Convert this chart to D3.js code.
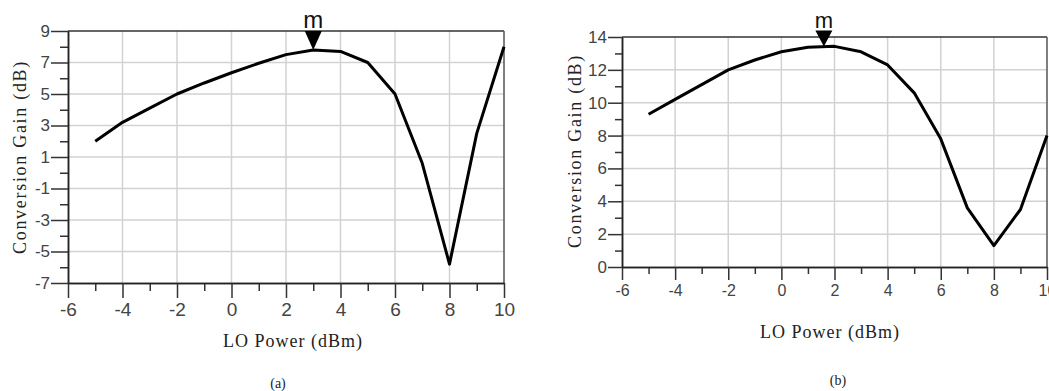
<!DOCTYPE html>
<html>
<head>
<meta charset="utf-8">
<script src="https://cdn.jsdelivr.net/npm/d3@7"></script>
<style>
  body { margin: 0; background: #fff; }
  svg { display: block; }
  .serif { font-family: "Liberation Serif", "DejaVu Serif", serif; }
  .sans { font-family: "Liberation Sans", Arial, sans-serif; }
</style>
</head>
<body>
<svg id="fig" width="1049" height="391"></svg>
<script>
// LO power sweep (dBm)
const loPower = [-5, -4, -3, -2, -1, 0, 1, 2, 3, 4, 5, 6, 7, 8, 9, 10];
// conversion gain (dB), panel (a) and (b)
const gainA = [2.0, 3.2, 4.1, 5.0, 5.7, 6.35, 6.95, 7.5, 7.8, 7.7, 7.0, 5.0, 0.6, -5.8, 2.5, 8.0];
const gainB = [9.3, 10.2, 11.1, 12.0, 12.6, 13.1, 13.37, 13.43, 13.1, 12.3, 10.6, 7.8, 3.6, 1.3, 3.5, 8.0];

const xMajor = [-6, -4, -2, 0, 2, 4, 6, 8, 10];
const xMinor = [-5, -3, -1, 1, 3, 5, 7, 9];
const yMajorA = [-7, -5, -3, -1, 1, 3, 5, 7, 9];
const yMinorA = [-6, -4, -2, 0, 2, 4, 6, 8];
const yMajorB = [0, 2, 4, 6, 8, 10, 12, 14];
const yMinorB = [1, 3, 5, 7, 9, 11, 13];

// marker "m" positions
const markerA = { x: 3, y: 7.8 };
const markerB = { x: 1.6, y: 13.42 };

const svg = d3.select("#fig");

function panel(cfg) {
  const x = d3.scaleLinear().domain([-6, 10]).range([cfg.left, cfg.right]);
  const y = d3.scaleLinear().domain(cfg.yDomain).range([cfg.bottom, cfg.top]);
  const g = svg.append("g");

  // grid
  g.append("g").selectAll("line").data(xMajor.slice(1, -1)).join("line")
    .attr("x1", d => x(d)).attr("x2", d => x(d))
    .attr("y1", cfg.top).attr("y2", cfg.bottom)
    .attr("stroke", "#d2d2d2").attr("stroke-width", 1.5);
  g.append("g").selectAll("line").data(cfg.yMajor.slice(1, -1)).join("line")
    .attr("y1", d => y(d)).attr("y2", d => y(d))
    .attr("x1", cfg.left).attr("x2", cfg.right)
    .attr("stroke", "#d2d2d2").attr("stroke-width", 1.5);

  // frame top/right
  g.append("line").attr("x1", cfg.left).attr("x2", cfg.right).attr("y1", cfg.top).attr("y2", cfg.top)
    .attr("stroke", "#333").attr("stroke-width", 1.5);
  g.append("line").attr("x1", cfg.right).attr("x2", cfg.right).attr("y1", cfg.top).attr("y2", cfg.bottom)
    .attr("stroke", "#555").attr("stroke-width", 1.5);

  // axes
  const styleAxis = size => a => a
    .call(s => s.selectAll(".domain").attr("stroke", "#222").attr("stroke-width", 1.5))
    .call(s => s.selectAll(".tick line").attr("stroke", "#333").attr("stroke-width", 1.5))
    .call(s => s.selectAll(".tick text").attr("fill", "#444").attr("class", "sans")
      .style("font-size", size + "px"));
  const plain = d => String(d);

  g.append("g").attr("transform", `translate(0,${cfg.bottom})`)
    .call(d3.axisBottom(x).tickValues(xMinor).tickSize(cfg.minorLen).tickFormat("").tickSizeOuter(0))
    .call(styleAxis(cfg.xFont));
  g.append("g").attr("transform", `translate(0,${cfg.bottom})`)
    .call(d3.axisBottom(x).tickValues(xMajor).tickSize(cfg.majorLen).tickPadding(cfg.xPad)
      .tickFormat(plain).tickSizeOuter(0))
    .call(styleAxis(cfg.xFont));
  g.append("g").attr("transform", `translate(${cfg.left},0)`)
    .call(d3.axisLeft(y).tickValues(cfg.yMinor).tickSize(cfg.minorLen).tickFormat("").tickSizeOuter(0))
    .call(styleAxis(cfg.yFont));
  g.append("g").attr("transform", `translate(${cfg.left},0)`)
    .call(d3.axisLeft(y).tickValues(cfg.yMajor).tickSize(cfg.yMajorLen).tickPadding(1)
      .tickFormat(plain).tickSizeOuter(0))
    .call(styleAxis(cfg.yFont));
  g.selectAll("g[font-family]").attr("font-family", null).attr("font-size", null);

  // curve
  g.append("path")
    .datum(loPower.map((p, i) => [p, cfg.gain[i]]))
    .attr("fill", "none").attr("stroke", "#000").attr("stroke-width", 3)
    .attr("stroke-linejoin", "round")
    .attr("d", d3.line().x(d => x(d[0])).y(d => y(d[1])));

  // marker
  const mx = x(cfg.marker.x), my = y(cfg.marker.y);
  g.append("path")
    .attr("d", `M${mx},${my} L${mx - 8.5},${my - cfg.triH} L${mx + 8.5},${my - cfg.triH} Z`)
    .attr("fill", "#000");
  g.append("text").attr("class", "sans").attr("x", mx).attr("y", my - cfg.triH - 3)
    .attr("text-anchor", "middle").style("font-size", cfg.mSize + "px")
    .attr("fill", "#111").text("m");

  // titles
  g.append("text").attr("class", "serif")
    .attr("transform", `translate(${cfg.yTitleX},${cfg.yTitleY}) rotate(-90)`)
    .attr("text-anchor", "middle").attr("dy", "0.35em")
    .style("font-size", "18px").attr("letter-spacing", 1.7)
    .attr("fill", "#222").text("Conversion Gain (dB)");
  g.append("text").attr("class", "serif").attr("x", cfg.xTitleX).attr("y", cfg.xTitleY)
    .attr("text-anchor", "middle").attr("dy", "0.35em")
    .style("font-size", "18px").attr("letter-spacing", 1)
    .attr("fill", "#222").text("LO Power (dBm)");
  g.append("text").attr("class", "serif").attr("x", cfg.capX).attr("y", cfg.capY)
    .attr("text-anchor", "middle").attr("dy", "0.35em")
    .style("font-size", "14px")
    .attr("fill", "#222").text(cfg.caption);
}

panel({
  left: 68, right: 504, top: 31, bottom: 283,
  yDomain: [-7, 9], yMajor: yMajorA, yMinor: yMinorA, gain: gainA,
  majorLen: 15, yMajorLen: 17, minorLen: 8, xPad: 5, xFont: 19, yFont: 17,
  marker: markerA, triH: 19, mSize: 24,
  yTitleX: 20, yTitleY: 157, xTitleX: 293, xTitleY: 341, capX: 278, capY: 383, caption: "(a)"
});

panel({
  left: 622, right: 1047, top: 37, bottom: 267,
  yDomain: [0, 14], yMajor: yMajorB, yMinor: yMinorB, gain: gainB,
  majorLen: 13, yMajorLen: 14, minorLen: 7, xPad: 5, xFont: 16, yFont: 17,
  marker: markerB, triH: 16, mSize: 22,
  yTitleX: 575, yTitleY: 151, xTitleX: 830, xTitleY: 332, capX: 838, capY: 380, caption: "(b)"
});
</script>
</body>
</html>
